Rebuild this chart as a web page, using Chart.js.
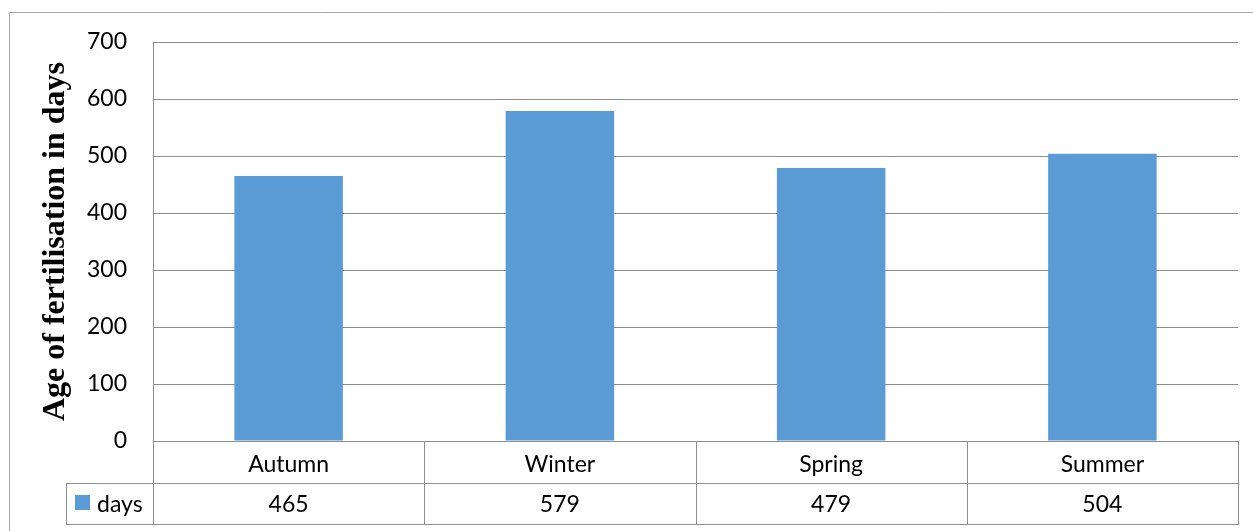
<!DOCTYPE html>
<html>
<head>
<meta charset="utf-8">
<script src="https://cdn.jsdelivr.net/npm/chart.js@4/dist/chart.umd.min.js"></script>
<style>
  html, body { margin: 0; padding: 0; background: #ffffff; }
  #wrap { width: 1253px; height: 531px; position: relative; }
</style>
</head>
<body>
<div id="wrap"><canvas id="chart" width="1253" height="531"></canvas></div>
<script>
const seasons = ['Autumn', 'Winter', 'Spring', 'Summer']
const days = [465, 579, 479, 504]
const series_name = 'days'
const y_ticks = [0, 100, 200, 300, 400, 500, 600, 700]

const bar_colour = '#5b9bd5'
const line_colour = '#8e8e8e'
const label_font = 'Lato, "Open Sans", sans-serif'
const label_size = 23

// Excel-style data table under the plot, plus the outer chart border
const data_table = {
    id: 'data_table',
    afterDraw(chart) {
        const ctx = chart.ctx
        const x = chart.scales.x
        const area = chart.chartArea
        const row1 = area.bottom
        const row2 = area.bottom + 42
        const row3 = area.bottom + 83
        const legend_left = 66

        ctx.save()
        ctx.lineWidth = 1

        function line(x1, y1, x2, y2) {
            ctx.beginPath()
            ctx.moveTo(x1, y1)
            ctx.lineTo(x2, y2)
            ctx.stroke()
        }

        // outer border (only top and left fall inside the picture)
        ctx.strokeStyle = '#a6a6a6'
        line(9.5, 12.5, 1253, 12.5)
        line(9.5, 12.5, 9.5, 531)
        ctx.strokeStyle = line_colour

        // horizontal rules
        line(legend_left, row2 + 0.5, area.right, row2 + 0.5)
        line(legend_left, row3 + 0.5, area.right, row3 + 0.5)
        // vertical rules
        line(legend_left + 0.5, row2, legend_left + 0.5, row3 + 1)
        line(area.left + 0.5, area.top, area.left + 0.5, row3 + 1)
        const half = (x.getPixelForValue(1) - x.getPixelForValue(0)) / 2
        for (let i = 0; i < seasons.length; i ++) {
            const edge = Math.round(x.getPixelForValue(i) + half) + 0.5
            line(edge, row1, edge, row3 + 1)
        }

        // legend key
        ctx.fillStyle = bar_colour
        ctx.fillRect(75, row2 + 12, 15, 15)
        ctx.fillStyle = '#000000'
        ctx.font = label_size + 'px ' + label_font
        ctx.textBaseline = 'middle'
        ctx.textAlign = 'left'
        ctx.fillText(series_name, 97, (row2 + row3) / 2 + 1)

        // values
        ctx.textAlign = 'center'
        for (let i = 0; i < days.length; i ++) {
            ctx.fillText(String(days[i]), x.getPixelForValue(i), (row2 + row3) / 2 + 1)
        }
        ctx.restore()
    }
}

new Chart(document.getElementById('chart'), {
    type: 'bar',
    data: {
        labels: seasons,
        datasets: [{
            label: series_name,
            data: days,
            backgroundColor: bar_colour,
            borderWidth: 0,
            categoryPercentage: 0.8,
            barPercentage: 0.5
        }]
    },
    options: {
        responsive: false,
        animation: false,
        layout: { padding: { left: 0, top: 42, right: 15, bottom: 0 } },
        plugins: {
            legend: { display: false },
            tooltip: { enabled: false }
        },
        scales: {
            x: {
                afterFit: function (scale) { scale.height = 90 },
                grid: { display: false },
                border: { display: true, color: line_colour },
                ticks: {
                    color: '#000000',
                    font: { family: label_font, size: label_size },
                    padding: 2
                }
            },
            y: {
                min: 0,
                max: 700,
                afterFit: function (scale) { scale.width = 153 },
                afterBuildTicks: function (scale) {
                    scale.ticks = y_ticks.map(v => ({ value: v }))
                },
                grid: { color: line_colour, drawTicks: false },
                border: { display: true, color: line_colour },
                ticks: {
                    color: '#000000',
                    font: { family: label_font, size: label_size },
                    padding: 26
                },
                title: {
                    display: true,
                    text: 'Age of fertilisation in days',
                    color: '#000000',
                    font: { family: '"Liberation Serif", "Times New Roman", serif', size: 32, weight: 'bold' },
                    padding: { top: 37, bottom: 0 }
                }
            }
        }
    },
    plugins: [data_table]
})
</script>
</body>
</html>
